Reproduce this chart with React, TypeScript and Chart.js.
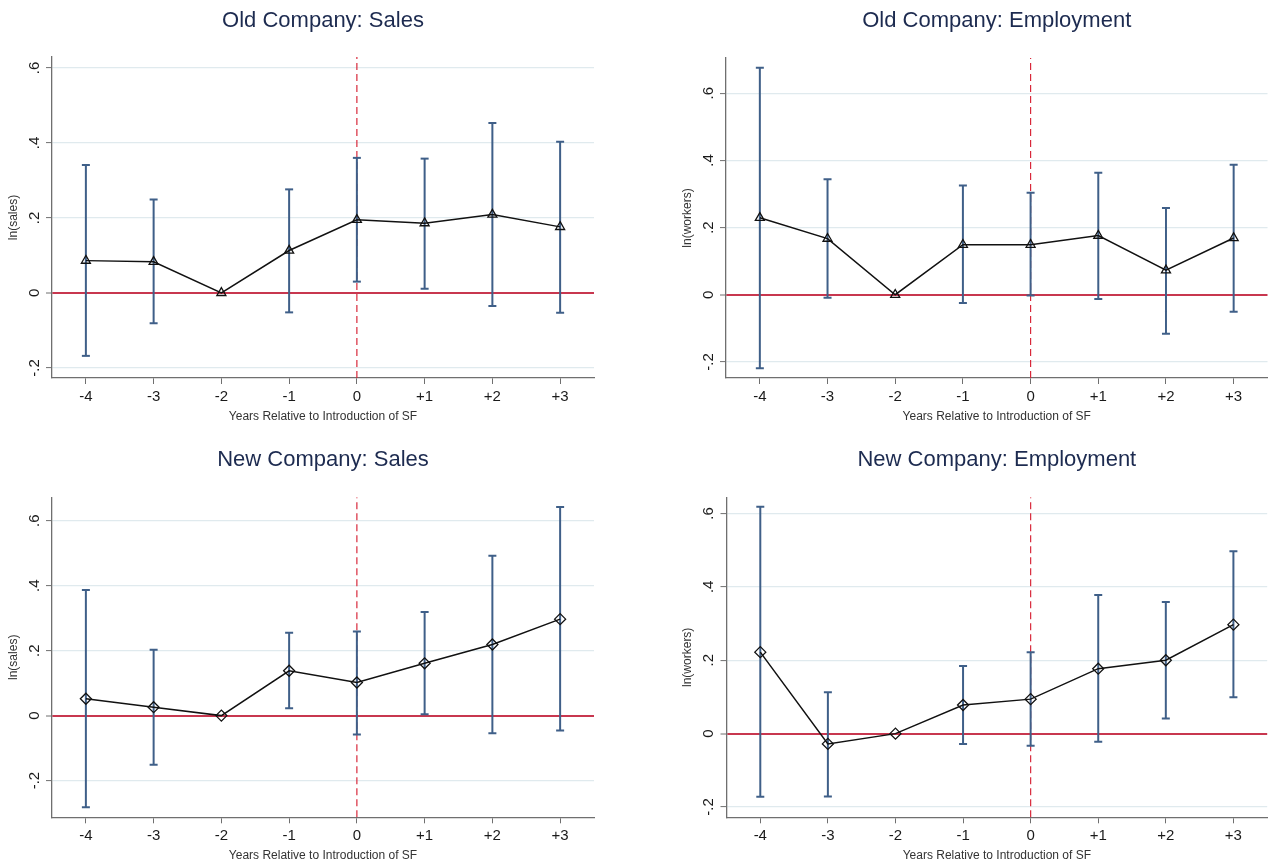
import React, { useEffect, useRef } from "react";
import { Chart, registerables } from "chart.js";

Chart.register(...registerables);

// ---------- data ----------
const YEARS = [-4, -3, -2, -1, 0, 1, 2, 3];
const YEAR_LABELS = ["-4", "-3", "-2", "-1", "0", "+1", "+2", "+3"];
const Y_TICKS = [-0.2, 0, 0.2, 0.4, 0.6];
const Y_TICK_LABELS = ["-.2", "0", ".2", ".4", ".6"];
const X_RANGE = [-4.5, 3.5];
const X_TITLE = "Years Relative to Introduction of SF";

const OLD_SALES = [0.086, 0.083, 0, 0.113, 0.195, 0.186, 0.209, 0.176];
const OLD_SALES_LO = [-0.168, -0.081, null, -0.052, 0.03, 0.011, -0.035, -0.053];
const OLD_SALES_HI = [0.341, 0.249, null, 0.276, 0.36, 0.358, 0.453, 0.403];
const OLD_SALES_RANGE = [-0.227, 0.629];

const OLD_EMP = [0.229, 0.167, 0, 0.149, 0.149, 0.176, 0.073, 0.169];
const OLD_EMP_LO = [-0.219, -0.009, null, -0.025, -0.002, -0.013, -0.116, -0.051];
const OLD_EMP_HI = [0.676, 0.344, null, 0.325, 0.304, 0.363, 0.258, 0.387];
const OLD_EMP_RANGE = [-0.248, 0.705];

const NEW_SALES = [0.052, 0.026, 0, 0.138, 0.102, 0.161, 0.219, 0.297];
const NEW_SALES_LO = [-0.282, -0.151, null, 0.023, -0.058, 0.004, -0.054, -0.046];
const NEW_SALES_HI = [0.387, 0.203, null, 0.255, 0.259, 0.319, 0.492, 0.642];
const NEW_SALES_RANGE = [-0.313, 0.672];

const NEW_EMP = [0.222, -0.028, 0, 0.078, 0.094, 0.177, 0.2, 0.297];
const NEW_EMP_LO = [-0.172, -0.171, null, -0.028, -0.033, -0.022, 0.041, 0.099];
const NEW_EMP_HI = [0.618, 0.113, null, 0.184, 0.222, 0.378, 0.359, 0.497];
const NEW_EMP_RANGE = [-0.228, 0.644];

// ---------- styles / layout ----------
const FONT = "'Liberation Sans', Arial, sans-serif";
const NAVY = "#1d2b50";
const AXIS = "#6f6f6f";
const GRID = "#e0eaee";
const ZERO_RED = "#c8374f";
const DASH_RED = "#d8283a";
const BAR_BLUE = "#3f5f88";

type PanelDef = {
  title: string;
  yTitle: string;
  marker: string;
  est: number[];
  lo: (number | null)[];
  hi: (number | null)[];
  range: number[];
  canvas: number[]; // x, y, w, h
  plot: number[]; // left, right, top, bottom
  titleY: number;
};

const PANELS: PanelDef[] = [
  {
    title: "Old Company: Sales",
    yTitle: "ln(sales)",
    marker: "triangle",
    est: OLD_SALES,
    lo: OLD_SALES_LO,
    hi: OLD_SALES_HI,
    range: OLD_SALES_RANGE,
    canvas: [0, 0, 637, 430],
    plot: [52, 594, 57, 378],
    titleY: 20.5,
  },
  {
    title: "Old Company: Employment",
    yTitle: "ln(workers)",
    marker: "triangle",
    est: OLD_EMP,
    lo: OLD_EMP_LO,
    hi: OLD_EMP_HI,
    range: OLD_EMP_RANGE,
    canvas: [637, 0, 637, 430],
    plot: [726, 1268, 58, 378],
    titleY: 20.5,
  },
  {
    title: "New Company: Sales",
    yTitle: "ln(sales)",
    marker: "rectRot",
    est: NEW_SALES,
    lo: NEW_SALES_LO,
    hi: NEW_SALES_HI,
    range: NEW_SALES_RANGE,
    canvas: [0, 430, 637, 435],
    plot: [52, 594, 497.3, 817.3],
    titleY: 459.5,
  },
  {
    title: "New Company: Employment",
    yTitle: "ln(workers)",
    marker: "rectRot",
    est: NEW_EMP,
    lo: NEW_EMP_LO,
    hi: NEW_EMP_HI,
    range: NEW_EMP_RANGE,
    canvas: [637, 430, 637, 435],
    plot: [726.5, 1268, 497.3, 817.3],
    titleY: 459.5,
  },
];

function PanelChart({ p }: { p: PanelDef }) {
  const ref = useRef<HTMLCanvasElement | null>(null);

  useEffect(() => {
    if (!ref.current) return;
    const [cx, cy, cw, ch] = p.canvas;
    const [pl, pr, pt, pb] = p.plot;
    const yAxisW = pl - cx;
    const topH = pt - cy;
    const bottomH = cy + ch - pb;
    const padRight = cx + cw - pr;
    const titlePadTop = p.titleY - cy - 22 * 1.2 / 2;
    const yTitlePadTop = pl - 38.5 - cx - 12 * 1.2 / 2;
    const xTitlePadBottom = cy + ch - (pb + 38.7) - 12 * 1.2 / 2;

    const estPts = YEARS.map((x, i) => ({ x, y: p.est[i] }));
    const whisker: { x: number; y: number | null }[] = [];
    const caps: { x: number; y: number }[] = [];
    YEARS.forEach((x, i) => {
      const lo = p.lo[i];
      const hi = p.hi[i];
      if (lo === null || hi === null) return;
      whisker.push({ x, y: lo }, { x, y: hi }, { x, y: null });
      caps.push({ x, y: lo }, { x, y: hi });
    });
    const vline = [
      { x: 0, y: p.range[0] },
      { x: 0, y: p.range[1] },
    ];

    const chart = new Chart(ref.current, {
      type: "line",
      data: {
        datasets: [
          {
            data: estPts,
            xAxisID: "x",
            yAxisID: "y",
            borderColor: "#111111",
            borderWidth: 1.5,
            pointStyle: p.marker as any,
            pointRadius: p.marker === "triangle" ? 5.2 : 5.5,
            pointBorderColor: "#111111",
            pointBorderWidth: 1.3,
            pointBackgroundColor: "rgba(255,255,255,0)",
            tension: 0,
            order: 0,
          },
          {
            data: caps,
            xAxisID: "x",
            yAxisID: "y",
            showLine: false,
            pointStyle: "line",
            pointRadius: 4,
            pointBorderWidth: 2,
            pointBorderColor: BAR_BLUE,
            borderColor: BAR_BLUE,
            order: 1,
          },
          {
            data: whisker,
            xAxisID: "x",
            yAxisID: "y",
            borderColor: BAR_BLUE,
            borderWidth: 2,
            pointRadius: 0,
            spanGaps: false,
            order: 2,
          },
          {
            data: vline,
            xAxisID: "x",
            yAxisID: "y",
            borderColor: DASH_RED,
            borderWidth: 1.2,
            borderDash: [7, 4],
            pointRadius: 0,
            order: 3,
          },
        ] as any,
      },
      options: {
        responsive: false,
        animation: false,
        events: [],
        layout: { padding: { left: 0, right: padRight, top: 0, bottom: 0 } },
        plugins: {
          legend: { display: false },
          tooltip: { enabled: false },
          title: { display: false },
        },
        scales: {
          x: {
            type: "linear",
            position: "bottom",
            min: X_RANGE[0],
            max: X_RANGE[1],
            afterBuildTicks: (s: any) => {
              s.ticks = YEARS.map((v) => ({ value: v }));
            },
            afterFit: (s: any) => {
              s.height = bottomH;
            },
            grid: {
              display: true,
              drawOnChartArea: false,
              drawTicks: true,
              tickLength: 6,
              tickColor: AXIS,
              tickWidth: 1,
            },
            border: { display: true, color: AXIS, width: 1.3 },
            ticks: {
              padding: 4,
              autoSkip: false,
              minRotation: 0,
              maxRotation: 0,
              color: "#1a1a1a",
              font: { family: FONT, size: 15 },
              callback: (_v: any, i: number) => YEAR_LABELS[i],
            },
            title: {
              display: true,
              text: X_TITLE,
              color: "#333333",
              font: { family: FONT, size: 12 },
              padding: { top: 0, bottom: xTitlePadBottom },
            },
          },
          xTop: {
            type: "linear",
            position: "top",
            min: X_RANGE[0],
            max: X_RANGE[1],
            afterFit: (s: any) => {
              s.height = topH;
            },
            grid: { display: false },
            border: { display: false },
            ticks: { display: false },
            title: {
              display: true,
              text: p.title,
              color: NAVY,
              font: { family: FONT, size: 22 },
              padding: { top: titlePadTop, bottom: 0 },
            },
          },
          y: {
            type: "linear",
            position: "left",
            min: p.range[0],
            max: p.range[1],
            afterBuildTicks: (s: any) => {
              s.ticks = Y_TICKS.map((v) => ({ value: v }));
            },
            afterFit: (s: any) => {
              s.width = yAxisW;
            },
            grid: {
              color: (c: any) => (c.tick && c.tick.value === 0 ? ZERO_RED : GRID),
              lineWidth: (c: any) => (c.tick && c.tick.value === 0 ? 2 : 1.2),
              drawTicks: true,
              tickLength: 6,
              tickColor: AXIS,
              tickWidth: 1,
            },
            border: { display: true, color: AXIS, width: 1.3 },
            ticks: {
              minRotation: 90,
              maxRotation: 90,
              crossAlign: "center",
              padding: 2.75,
              color: "#1a1a1a",
              font: { family: FONT, size: 15 },
              callback: (_v: any, i: number) => Y_TICK_LABELS[i],
            },
            title: {
              display: true,
              text: p.yTitle,
              color: "#333333",
              font: { family: FONT, size: 12 },
              padding: { top: yTitlePadTop, bottom: 0 },
            },
          },
        } as any,
      },
    });
    return () => chart.destroy();
  }, [p]);

  const [cx, cy, cw, ch] = p.canvas;
  return (
    <canvas
      ref={ref}
      width={cw}
      height={ch}
      style={{ position: "absolute", left: cx, top: cy, width: cw, height: ch }}
    />
  );
}

export default function App() {
  return (
    <div
      style={{
        position: "fixed",
        left: 0,
        top: 0,
        width: 1274,
        height: 865,
        overflow: "hidden",
        background: "#ffffff",
      }}
    >
      {PANELS.map((p) => (
        <PanelChart key={p.title} p={p} />
      ))}
    </div>
  );
}
